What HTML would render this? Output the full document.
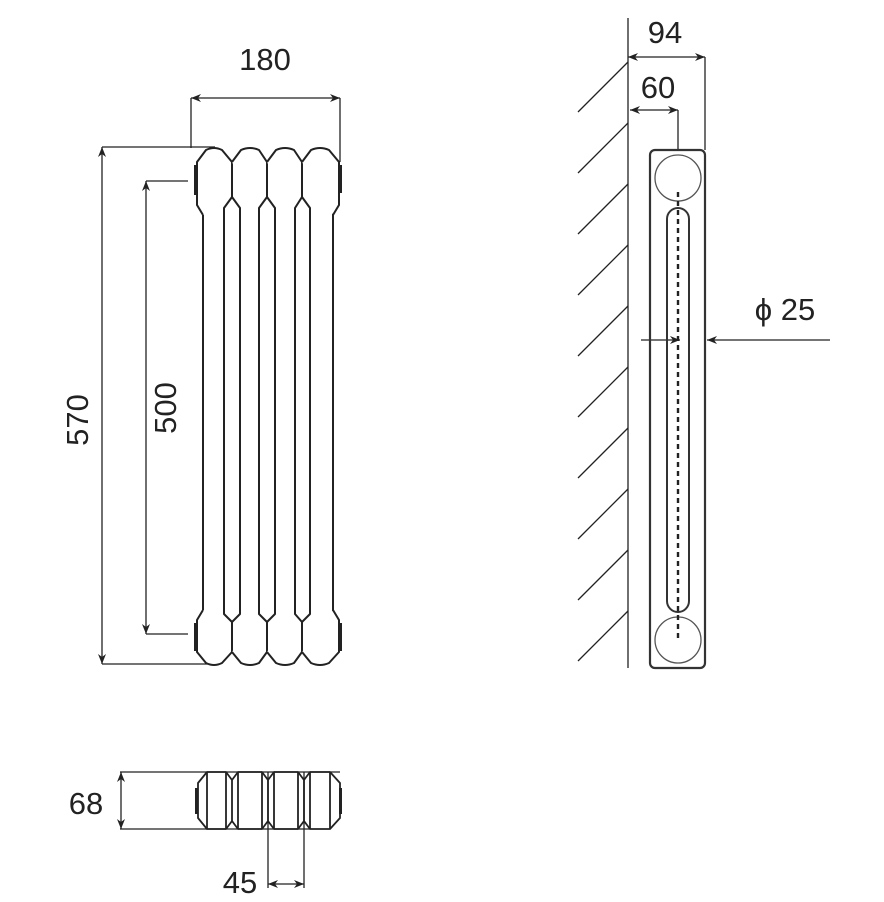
<!DOCTYPE html>
<html><head><style>
html,body{margin:0;padding:0;background:#fff;}
svg{display:block}
text{font-family:"Liberation Sans",sans-serif;fill:#222;font-size:31px}
</style></head><body>
<svg width="884" height="902" viewBox="0 0 884 902" xmlns="http://www.w3.org/2000/svg">
<defs>
<marker id="a" viewBox="0 0 10 10" refX="10" refY="5" markerWidth="10" markerHeight="10" markerUnits="userSpaceOnUse" orient="auto-start-reverse">
<path d="M0,1 L10,5 L0,9 L3,5 Z" fill="#222"/></marker>
</defs>
<g stroke="#222" stroke-width="1.3" fill="none">
<line x1="191" y1="98" x2="340" y2="98" marker-start="url(#a)" marker-end="url(#a)"/>
<line x1="191" y1="98" x2="191" y2="148"/>
<line x1="340" y1="98" x2="340" y2="162"/>
<line x1="102" y1="147" x2="102" y2="664" marker-start="url(#a)" marker-end="url(#a)"/>
<line x1="102" y1="147" x2="215" y2="147"/>
<line x1="102" y1="664" x2="215" y2="664"/>
<line x1="146" y1="181" x2="146" y2="634" marker-start="url(#a)" marker-end="url(#a)"/>
<line x1="146" y1="181" x2="188" y2="181"/>
<line x1="146" y1="634" x2="188" y2="634"/>
</g>
<g stroke="#222" stroke-width="2" fill="#fff" stroke-linejoin="round">
<line x1="203" y1="212" x2="203" y2="612"/><line x1="224" y1="212" x2="224" y2="612"/>
<line x1="240" y1="212" x2="240" y2="612"/>
<line x1="259" y1="212" x2="259" y2="612"/>
<line x1="275" y1="212" x2="275" y2="612"/><line x1="295" y1="212" x2="295" y2="612"/>
<line x1="310" y1="212" x2="310" y2="612"/>
<line x1="333" y1="212" x2="333" y2="612"/>
<path d="M203,215 L197,205 L197,162 L206,150 Q214,146 222,150 L232,162 L232,197 L224,208 L224,215"/>
<path d="M232,162 L241,150 Q250,146 259,150 L267,162 L267,197 L259,208 L259,215 M232,197 L240,208 L240,215"/>
<path d="M267,162 L276,150 Q285,146 294,150 L302,162 L302,197 L295,208 L295,215 M267,197 L275,208 L275,215"/>
<path d="M302,162 L311,150 Q320,146 329,150 L339,162 L339,205 L333,215 M302,197 L310,208 L310,215"/>
<path d="M203,610 L197,620 L197,652 L206,663 Q214,667 222,663 L232,652 L232,622 L224,614 L224,610"/>
<path d="M232,652 L241,663 Q250,667 259,663 L267,652 L267,622 L259,614 L259,610 M232,622 L240,614 L240,610"/>
<path d="M267,652 L276,663 Q285,667 294,663 L302,652 L302,622 L295,614 L295,610 M267,622 L275,614 L275,610"/>
<path d="M302,652 L311,663 Q320,667 329,663 L339,652 L339,620 L333,610 M302,622 L310,614 L310,610"/>
</g>
<g fill="#222">
<rect x="194" y="165" width="4" height="30"/><rect x="338" y="165" width="4" height="28"/>
<rect x="194" y="623" width="4" height="28"/><rect x="338" y="623" width="4" height="28"/>
</g>
<g stroke="#222" stroke-width="1.3" fill="none">
<line x1="120" y1="772" x2="340" y2="772"/>
<line x1="120" y1="829" x2="310" y2="829"/>
<line x1="121" y1="772" x2="121" y2="829" marker-start="url(#a)" marker-end="url(#a)"/>
<line x1="268" y1="772" x2="268" y2="888"/>
<line x1="304" y1="772" x2="304" y2="888"/>
<line x1="268" y1="884" x2="304" y2="884" marker-start="url(#a)" marker-end="url(#a)"/>
</g>
<g stroke="#222" stroke-width="1.8" fill="none" stroke-linejoin="round">
<path d="M207,772 L226,772 L232,780 L232,821 L226,829 L207,829 L198,818 L198,783 Z"/>
<path d="M232,780 L238,772 L262,772 L268,780 L268,821 L262,829 L238,829 L232,821"/>
<path d="M268,780 L274,772 L298,772 L304,780 L304,821 L298,829 L274,829 L268,821"/>
<path d="M304,780 L310,772 L330,772 L340,783 L340,818 L330,829 L310,829 L304,821"/>
<line x1="207" y1="772" x2="207" y2="829"/><line x1="226" y1="772" x2="226" y2="829"/>
<line x1="238" y1="772" x2="238" y2="829"/><line x1="262" y1="772" x2="262" y2="829"/>
<line x1="274" y1="772" x2="274" y2="829"/><line x1="298" y1="772" x2="298" y2="829"/>
<line x1="310" y1="772" x2="310" y2="829"/><line x1="330" y1="772" x2="330" y2="829"/>
</g>
<rect x="195" y="788" width="3" height="26" fill="#222"/><rect x="339" y="788" width="3" height="26" fill="#222"/>
<g stroke="#222" stroke-width="1.3" fill="none">
<line x1="628" y1="18" x2="628" y2="668"/>
<path d="M628,62 L578,112 M628,123 L578,173 M628,184 L578,234 M628,245 L578,295 M628,306 L578,356 M628,367 L578,417 M628,428 L578,478 M628,489 L578,539 M628,550 L578,600 M628,611 L578,661"/>
<line x1="628" y1="57" x2="705" y2="57" marker-start="url(#a)" marker-end="url(#a)"/>
<line x1="705" y1="57" x2="705" y2="150"/>
<line x1="630" y1="110" x2="678" y2="110" marker-start="url(#a)" marker-end="url(#a)"/>
<line x1="678" y1="110" x2="678" y2="150"/>
<line x1="641" y1="340" x2="680" y2="340" marker-end="url(#a)"/>
<line x1="830" y1="340" x2="707" y2="340" marker-end="url(#a)"/>
</g>
<rect x="650" y="150" width="55" height="518" rx="5" stroke="#333" stroke-width="2.2" fill="none"/>
<circle cx="678" cy="178" r="23" stroke="#555" stroke-width="1.3" fill="none"/>
<circle cx="678" cy="640" r="23" stroke="#555" stroke-width="1.3" fill="none"/>
<rect x="667" y="208" width="22" height="404" rx="11" stroke="#333" stroke-width="2" fill="none"/>
<line x1="678" y1="192" x2="678" y2="638" stroke="#222" stroke-width="2.4" stroke-dasharray="5,4"/>
<text x="265" y="70" text-anchor="middle">180</text>
<text x="665" y="43" text-anchor="middle">94</text>
<text x="658" y="98" text-anchor="middle">60</text>
<text x="785" y="320" text-anchor="middle">ϕ 25</text>
<text x="86" y="814" text-anchor="middle">68</text>
<text x="240" y="893" text-anchor="middle">45</text>
<text transform="translate(88,420) rotate(-90)" text-anchor="middle">570</text>
<text transform="translate(176,408) rotate(-90)" text-anchor="middle">500</text>
</svg>
</body></html>
